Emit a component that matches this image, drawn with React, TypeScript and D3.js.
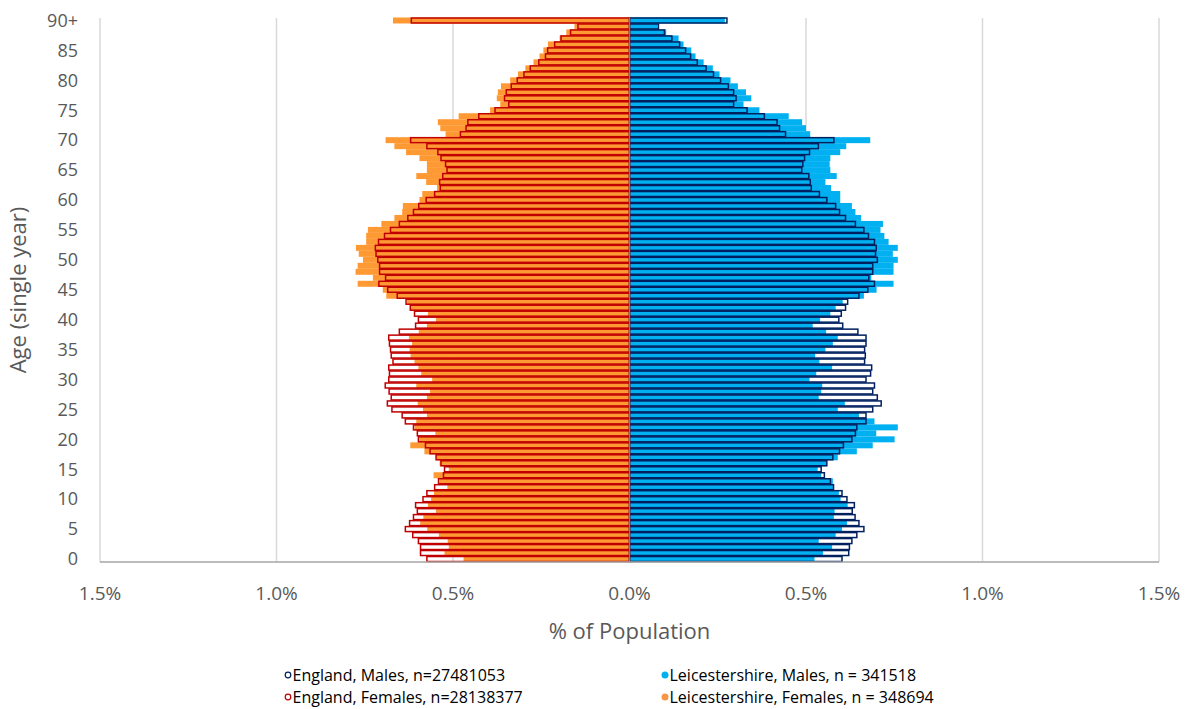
import React, { useEffect } from 'react';
import * as d3 from 'd3';

// age 0 .. 90+ , values are % of population
const ages = d3.range(0, 91);

const englandFemales = [
  0.574, 0.592, 0.592, 0.598, 0.614, 0.635, 0.623, 0.612, 0.601, 0.606,
  0.585, 0.574, 0.552, 0.541, 0.527, 0.524, 0.534, 0.548, 0.565, 0.578,
  0.598, 0.601, 0.612, 0.635, 0.644, 0.673, 0.686, 0.675, 0.681, 0.692,
  0.682, 0.680, 0.682, 0.670, 0.675, 0.677, 0.680, 0.682, 0.652, 0.606,
  0.598, 0.609, 0.621, 0.633, 0.658, 0.685, 0.710, 0.691, 0.708, 0.708,
  0.713, 0.718, 0.720, 0.711, 0.694, 0.677, 0.652, 0.628, 0.612, 0.597,
  0.576, 0.552, 0.536, 0.538, 0.529, 0.517, 0.521, 0.534, 0.543, 0.574,
  0.620, 0.479, 0.463, 0.458, 0.427, 0.381, 0.342, 0.354, 0.349, 0.335,
  0.318, 0.299, 0.281, 0.257, 0.238, 0.232, 0.212, 0.194, 0.167, 0.146,
  0.618,
];

const leicsFemales = [
  0.470, 0.524, 0.512, 0.515, 0.540, 0.573, 0.593, 0.584, 0.548, 0.571,
  0.562, 0.554, 0.516, 0.538, 0.555, 0.512, 0.538, 0.548, 0.581, 0.621,
  0.595, 0.550, 0.609, 0.604, 0.574, 0.585, 0.600, 0.574, 0.565, 0.604,
  0.559, 0.590, 0.598, 0.609, 0.620, 0.623, 0.616, 0.625, 0.597, 0.574,
  0.548, 0.571, 0.619, 0.630, 0.689, 0.699, 0.770, 0.727, 0.776, 0.770,
  0.755, 0.767, 0.775, 0.746, 0.746, 0.741, 0.703, 0.666, 0.644, 0.642,
  0.595, 0.587, 0.545, 0.576, 0.604, 0.574, 0.574, 0.595, 0.633, 0.666,
  0.691, 0.521, 0.536, 0.543, 0.484, 0.395, 0.366, 0.376, 0.373, 0.364,
  0.338, 0.316, 0.295, 0.272, 0.255, 0.244, 0.231, 0.198, 0.179, 0.156,
  0.670,
];

const englandMales = [
  0.602, 0.621, 0.623, 0.630, 0.644, 0.664, 0.650, 0.639, 0.631, 0.637,
  0.616, 0.602, 0.578, 0.569, 0.552, 0.543, 0.559, 0.576, 0.595, 0.606,
  0.630, 0.640, 0.644, 0.670, 0.670, 0.689, 0.713, 0.702, 0.689, 0.694,
  0.670, 0.683, 0.686, 0.666, 0.668, 0.666, 0.670, 0.670, 0.647, 0.604,
  0.593, 0.600, 0.612, 0.618, 0.650, 0.675, 0.694, 0.678, 0.689, 0.689,
  0.702, 0.697, 0.699, 0.694, 0.677, 0.664, 0.640, 0.612, 0.595, 0.584,
  0.559, 0.538, 0.515, 0.512, 0.508, 0.488, 0.491, 0.496, 0.510, 0.535,
  0.579, 0.442, 0.425, 0.418, 0.382, 0.333, 0.295, 0.302, 0.295, 0.280,
  0.258, 0.238, 0.217, 0.192, 0.173, 0.159, 0.142, 0.120, 0.099, 0.082,
  0.276,
];

const leicsMales = [
  0.524, 0.548, 0.574, 0.536, 0.584, 0.602, 0.616, 0.579, 0.581, 0.618,
  0.598, 0.593, 0.579, 0.576, 0.543, 0.533, 0.559, 0.590, 0.644, 0.689,
  0.751, 0.699, 0.760, 0.694, 0.650, 0.590, 0.610, 0.536, 0.543, 0.546,
  0.510, 0.529, 0.574, 0.538, 0.526, 0.555, 0.576, 0.590, 0.557, 0.519,
  0.540, 0.569, 0.584, 0.604, 0.664, 0.700, 0.748, 0.685, 0.748, 0.748,
  0.760, 0.746, 0.760, 0.734, 0.722, 0.711, 0.718, 0.656, 0.640, 0.630,
  0.597, 0.597, 0.571, 0.555, 0.587, 0.569, 0.567, 0.569, 0.597, 0.614,
  0.682, 0.512, 0.500, 0.489, 0.451, 0.368, 0.323, 0.345, 0.330, 0.307,
  0.286, 0.255, 0.236, 0.210, 0.187, 0.175, 0.153, 0.139, 0.104, 0.080,
  0.270,
];

const xTicks = [-1.5, -1.0, -0.5, 0, 0.5, 1.0, 1.5];
const yTicks = [0, 5, 10, 15, 20, 25, 30, 35, 40, 45, 50, 55, 60, 65, 70, 75, 80, 85, 90];

const legendItems = [
  { label: 'England, Males, n=27481053', color: '#002060', filled: false },
  { label: 'Leicestershire, Males, n = 341518', color: '#00B0F0', filled: true },
  { label: 'England, Females, n=28138377', color: '#C00000', filled: false },
  { label: 'Leicestershire, Females, n = 348694', color: '#F79646', filled: true },
];

const FONT = '"Open Sans", "Liberation Sans", sans-serif';
const W = 1192;
const H = 709;

export default function App() {
  useEffect(() => {
    document.body.style.margin = '0';
  }, []);

  const x = d3.scaleLinear().domain([-1.5, 1.5]).range([100, 1159]);
  const y = d3.scaleBand<number>().domain(ages.slice().reverse()).range([17.5, 562]).paddingInner(0);
  const bw = y.bandwidth();
  const x0 = x(0);

  return (
    <svg width={W} height={H} style={{ display: 'block', background: '#fff' }}>
      {/* gridlines */}
      {xTicks.map((t) => (
        <line key={'g' + t} x1={x(t)} x2={x(t)} y1={18} y2={562} stroke="#D9D9D9" strokeWidth={1.5} />
      ))}

      {/* Leicestershire, filled bars */}
      {ages.map((a, i) => (
        <rect key={'lm' + a} x={x0} y={y(a)} width={x(leicsMales[i]) - x0} height={bw} fill="#00B0F0" />
      ))}
      {ages.map((a, i) => (
        <rect key={'lf' + a} x={x(-leicsFemales[i])} y={y(a)} width={x0 - x(-leicsFemales[i])} height={bw} fill="#FF9933" />
      ))}

      {/* England, outlined bars */}
      {ages.map((a, i) => (
        <rect key={'em' + a} x={x0} y={(y(a) as number) + 0.5} width={x(englandMales[i]) - x0} height={bw - 1}
          fill="none" stroke="#002060" strokeWidth={1.5} />
      ))}
      {ages.map((a, i) => (
        <rect key={'ef' + a} x={x(-englandFemales[i])} y={(y(a) as number) + 0.5} width={x0 - x(-englandFemales[i])} height={bw - 1}
          fill="none" stroke="#C00000" strokeWidth={1.5} />
      ))}

      {/* axes lines */}
      <line x1={x0} x2={x0} y1={17.5} y2={562} stroke="#7F7F7F" strokeWidth={1} />
      <line x1={100} x2={1159} y1={562} y2={562} stroke="#A6A6A6" strokeWidth={1.5} />

      {/* y tick labels */}
      {yTicks.map((t) => (
        <text key={'yt' + t} x={78} y={(y(t) as number) + bw / 2} dy="0.35em" textAnchor="end"
          fontFamily={FONT} fontSize={18} fill="#595959">
          {t === 90 ? '90+' : t}
        </text>
      ))}

      {/* x tick labels */}
      {xTicks.map((t) => (
        <text key={'xt' + t} x={x(t)} y={600} textAnchor="middle" fontFamily={FONT} fontSize={19} fill="#595959">
          {Math.abs(t).toFixed(1) + '%'}
        </text>
      ))}

      {/* axis titles */}
      <text x={x0} y={639} textAnchor="middle" fontFamily={FONT} fontSize={22} fill="#595959">% of Population</text>
      <text transform="translate(26,290) rotate(-90)" textAnchor="middle" fontFamily={FONT} fontSize={22} fill="#595959">
        Age (single year)
      </text>

      {/* legend */}
      {legendItems.map((d, i) => {
        const lx = i % 2 === 0 ? 288 : 665;
        const ly = i < 2 ? 675 : 697;
        return (
          <g key={d.label}>
            <circle cx={lx} cy={ly} r={d.filled ? 3.5 : 2.8} fill={d.filled ? d.color : 'none'}
              stroke={d.color} strokeWidth={d.filled ? 0 : 1.2} />
            <text x={lx + 4.5} y={ly + 5.5} fontFamily={FONT} fontSize={16} fill="#000">{d.label}</text>
          </g>
        );
      })}
    </svg>
  );
}
